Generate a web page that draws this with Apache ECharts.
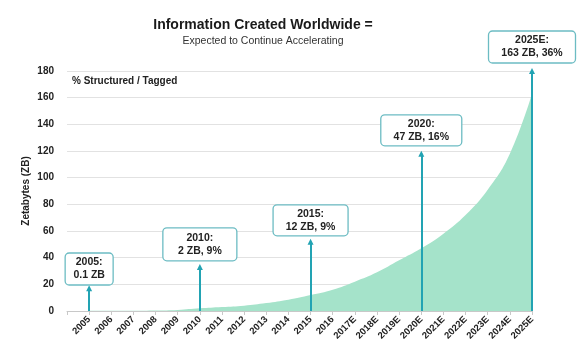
<!DOCTYPE html>
<html><head><meta charset="utf-8">
<script src="https://cdn.jsdelivr.net/npm/echarts@6/dist/echarts.min.js"></script>
<style>html,body{margin:0;padding:0;background:#fff}#c{width:580px;height:352px}</style>
</head><body><div id="c"></div>
<script>
var categories = ['', '2005','2006','2007','2008','2009','2010','2011','2012','2013','2014','2015','2016','2017E','2018E','2019E','2020E','2021E','2022E','2023E','2024E','2025E'];
var zettabytes = [null, 0.1,0.15,0.2,0.4,0.8,2,3,4,6,8.5,12,16,22,29,38,47,58,72,91,118,163];
var yTicks = [0,20,40,60,80,100,120,140,160,180];
var calloutYears = ['2005','2010','2015','2020E','2025E'];
var calloutTexts = ['2005:\n0.1 ZB','2010:\n2 ZB, 9%','2015:\n12 ZB, 9%','2020:\n47 ZB, 16%','2025E:\n163 ZB, 36%'];
var arrowTops = [17, 33, 52, 118, 180];
var boxLevels = [31.5, 50, 68, 135.5, 198];
var boxSizes = [[48,32],[74,33],[75,31],[81,31],[87,32]];

var FONT = 'Liberation Sans, Arial, sans-serif';
var teal = '#22a3b3';

var chart = echarts.init(document.getElementById('c'), null, {renderer:'canvas'});
chart.setOption({
  backgroundColor:'#fff',
  animation:false,
  title:{
    text:'Information Created Worldwide =',
    subtext:'Expected to Continue Accelerating',
    left:258, top:13, textAlign:'center', itemGap:4,
    textStyle:{fontFamily:FONT, fontSize:14, fontWeight:'bold', color:'#1a1a1a'},
    subtextStyle:{fontFamily:FONT, fontSize:10.5, color:'#333'}
  },
  grid:{left:67, right:48, top:71, bottom:41},
  xAxis:{
    type:'category', data:categories, boundaryGap:false,
    axisLine:{lineStyle:{color:'#c8c8c8'}},
    axisTick:{show:true, length:4, lineStyle:{color:'#c8c8c8'}},
    axisLabel:{rotate:45, fontFamily:FONT, fontSize:9.5, fontWeight:'bold', color:'#222', margin:7, interval:0},
    splitLine:{show:false}
  },
  yAxis:{
    type:'value', min:0, max:180, interval:20,
    name:'Zetabytes (ZB)', nameLocation:'middle', nameGap:36, nameRotate:90, nameMoveOverlap:false,
    nameTextStyle:{fontFamily:FONT, fontSize:10, fontWeight:'bold', color:'#222'},
    axisLine:{show:false}, axisTick:{show:false},
    axisLabel:{fontFamily:FONT, fontSize:10, fontWeight:'bold', color:'#222', margin:13,
      formatter:function(v){return yTicks.indexOf(v)>=0? String(v):'';}},
    splitLine:{lineStyle:{color:'#e2e2e2'}}
  },
  graphic:[{type:'text', left:72, top:76, style:{text:'% Structured / Tagged', font:'bold 10px '+FONT, fill:'#222'}}],
  series:[
    {
      type:'line', data:zettabytes, smooth:0.45, symbol:'none',
      lineStyle:{width:0}, areaStyle:{color:'#a5e3ca', opacity:1}, z:1,
      markLine:{
        silent:true, symbol:['none','triangle'], symbolSize:[6,6], label:{show:false},
        lineStyle:{color:teal, width:2, type:'solid'},
        data: calloutYears.map(function(y,i){return [{coord:[y,0]},{coord:[y,arrowTops[i]]}];})
      }
    },
    {
      type:'custom', clip:false, z:5,
      data: calloutYears.map(function(y,i){ return [y, boxLevels[i]]; }),
      renderItem:function(params, api){
        var i = params.dataIndex;
        var p = api.coord([api.value(0), api.value(1)]);
        var w = boxSizes[i][0], h = boxSizes[i][1];
        return {
          type:'group',
          children:[
            {type:'rect', shape:{x:p[0]-w/2, y:p[1]-h/2, width:w, height:h, r:4},
             style:{fill:'#fff', stroke:'#6cbcc3', lineWidth:1.3}},
            {type:'text', x:p[0], y:p[1],
             style:{text:calloutTexts[i], align:'center', verticalAlign:'middle',
               font:'bold 10.5px '+FONT, fill:'#222', lineHeight:13}}
          ]
        };
      }
    }
  ]
});
</script></body></html>
